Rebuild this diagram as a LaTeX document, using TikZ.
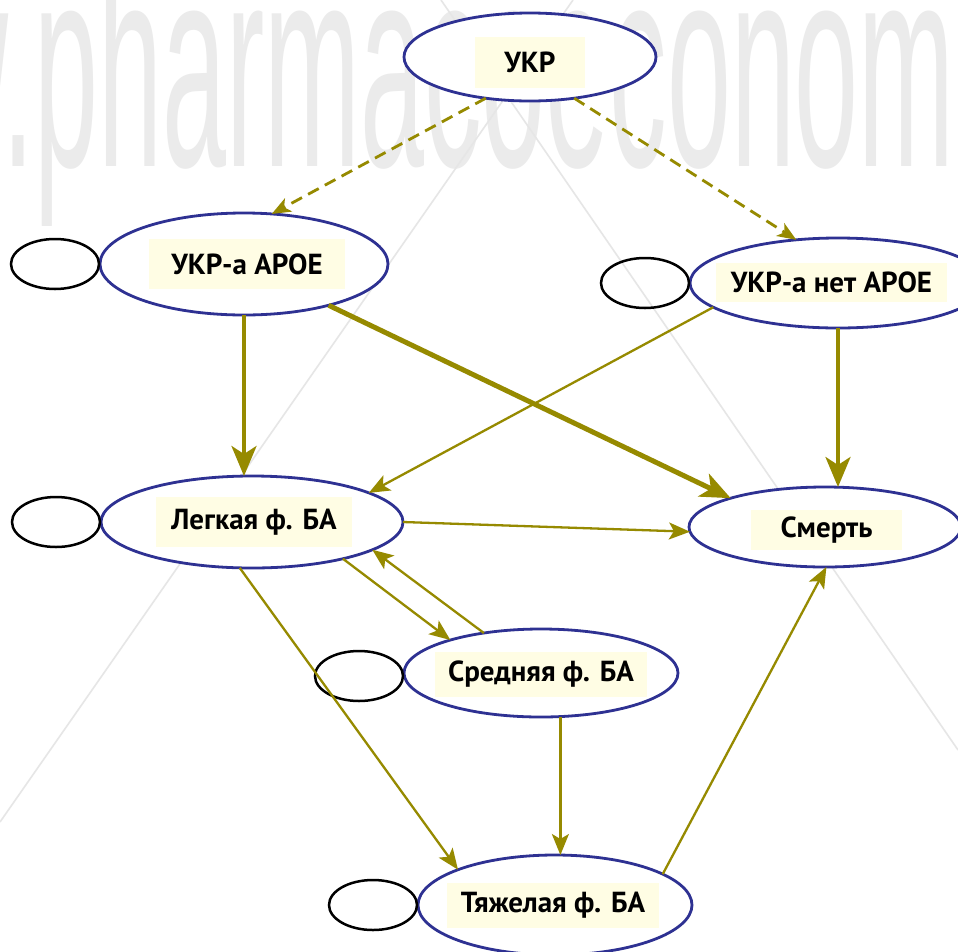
\documentclass[tikz,border=0pt]{standalone}
\usepackage{fontspec}
\setmainfont{PT Sans}
\newfontfamily\wmfont{Liberation Sans}
\usetikzlibrary{shapes.geometric,arrows.meta,calc}
\definecolor{ovalblue}{RGB}{46,49,146}
\definecolor{arrowolive}{RGB}{150,138,0}
\definecolor{labelbg}{RGB}{255,253,228}
\definecolor{wmgray}{RGB}{235,235,235}
\definecolor{bglinegray}{RGB}{230,230,230}
\tikzset{
  big/.style={ellipse, draw=ovalblue, line width=2.8pt, fill=white, inner sep=0pt, outer sep=0pt},
  small/.style={ellipse, draw=black, line width=2.5pt, minimum width=88pt, minimum height=50pt, inner sep=0pt, outer sep=0pt},
  lbl/.style={fill=labelbg, inner sep=0pt, text=black, font=\bfseries\fontsize{29}{32}\selectfont},
  dasharrow/.style={draw=arrowolive, line width=2.8pt, dash pattern=on 12pt off 7pt, -{Stealth[length=19pt, width=15pt, inset=5pt]}},
  thinarrow/.style={draw=arrowolive, line width=2.3pt, -{Stealth[length=21pt, width=17pt, inset=5pt]}},
  thickarrow/.style={draw=arrowolive, line width=3.8pt, -{Stealth[length=30pt, width=25pt, inset=8pt]}},
  heavyarrow/.style={draw=arrowolive, line width=5pt, -{Stealth[length=30pt, width=25pt, inset=8pt]}},
  bgline/.style={draw=bglinegray, line width=1.6pt}
}
\begin{document}
\begin{tikzpicture}[x=1pt,y=-1pt]
\useasboundingbox (0,0) rectangle (958,951);
\fill[white] (0,0) rectangle (958,951);
\clip (0,0) rectangle (958,951);
% watermark
\node[anchor=base west, inner sep=0pt, text=wmgray] (wm) at (-240.6,166)
  {\scalebox{1.15}[2.89]{\wmfont\fontsize{100}{100}\selectfont www.pharmacoeconomics.ru}};
\draw[bgline] (573,0) -- (0,822);
\draw[bgline] (441,0) -- (958,750);
% states
\node[big, minimum width=252pt, minimum height=88pt] (ukr) at (530,57) {};
\node[lbl, minimum width=110pt, minimum height=51pt] (ukrL) at (530,62.5) {УКР};
\node[big, minimum width=288pt, minimum height=102pt] (apoe) at (244,264) {};
\node[lbl, minimum width=196pt, minimum height=50pt] (apoeL) at (247,264) {УКР-а APOE};
\node[big, minimum width=296pt, minimum height=90pt] (noapoe) at (838,283) {};
\node[lbl, minimum width=231pt, minimum height=39pt] (noapoeL) at (831.5,282.5) {УКР-а нет APOE};
\node[big, minimum width=302pt, minimum height=92pt] (leg) at (252,522) {};
\node[lbl, minimum width=196pt, minimum height=50pt] (legL) at (254,522) {Легкая ф. БА};
\node[big, minimum width=272pt, minimum height=80pt] (smert) at (825,527) {};
\node[lbl, minimum width=151pt, minimum height=40pt] (smertL) at (826.5,530) {Смерть};
\node[big, minimum width=274pt, minimum height=88pt] (sred) at (541,673) {};
\node[lbl, minimum width=212pt, minimum height=45pt] (sredL) at (541,674.5) {Средняя ф. БА};
\node[big, minimum width=274pt, minimum height=100pt] (tyazh) at (555,905) {};
\node[lbl, minimum width=212pt, minimum height=45pt] (tyazhL) at (553,905.5) {Тяжелая ф. БА};
% small ovals
\node[small] (s1) at (55,264) {};
\node[small] (s2) at (645,283) {};
\node[small] (s3) at (56,522) {};
\node[small] (s4) at (359,676) {};
\node[small] (s5) at (373,905) {};
% transitions
\draw[dasharrow] (ukr.223) -- (apoe.61);
\draw[dasharrow] (ukr.317) -- (noapoe.134);
\draw[thickarrow] (apoe.south) -- (apoe.south |- leg.north);
\draw[heavyarrow] (apoe.-26) -- (smert.163);
\draw[thinarrow] (noapoe.191) -- (leg.14);
\draw[thickarrow] (noapoe.south) -- (noapoe.south |- smert.north);
\draw[thinarrow] (leg.east) -- (smert.182);
\draw[thinarrow] (leg.-22) -- (sred.160);
\draw[thinarrow] (sred.145) -- (leg.-13.5);
\draw[thinarrow] (leg.255) -- (tyazh.160);
\draw[thinarrow] (sred.-66.5) -- (sred.-66.5 |- tyazh.north);
\draw[thinarrow] (tyazh.16) -- (smert.-88);
\end{tikzpicture}
\end{document}
